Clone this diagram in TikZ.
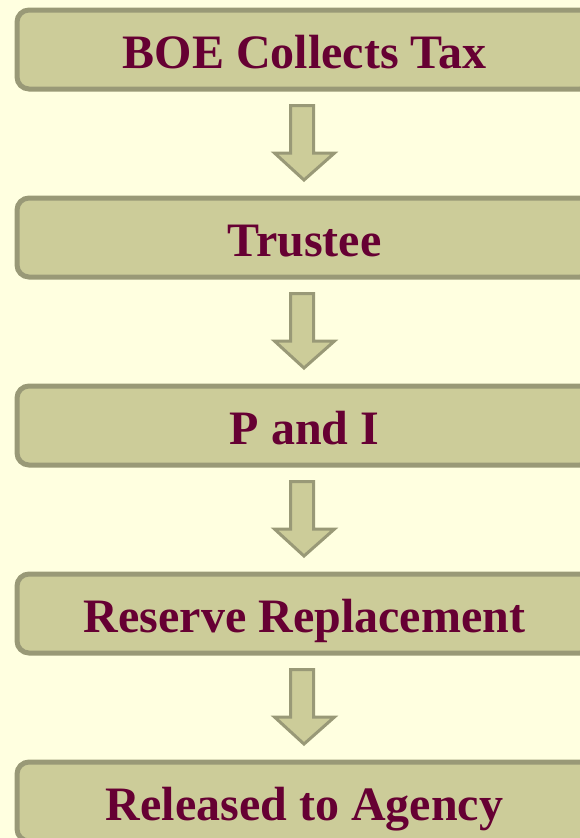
\documentclass[tikz,border=0pt]{standalone}
\usepackage{fontspec}
\setmainfont{Liberation Serif}
\definecolor{bgc}{HTML}{FFFFE0}
\definecolor{boxfill}{HTML}{CCCC99}
\definecolor{boxline}{HTML}{999977}
\definecolor{txt}{HTML}{660033}
\begin{document}
\begin{tikzpicture}[x=1pt,y=-1pt,
  stagebox/.style={draw=boxline,fill=boxfill,line width=5pt,rounded corners=12pt,
    minimum width=575pt,minimum height=79pt,inner sep=0pt,anchor=center,
    text height=40pt,text depth=3pt,
    text=txt,font=\fontsize{48}{52}\selectfont\bfseries},
  downarrow/.style={draw=boxline,fill=boxfill,line width=3pt,line join=miter}]
\useasboundingbox (0,0) rectangle (580,838);
\clip (0,0) rectangle (580,838);
\fill[bgc] (0,0) rectangle (580,838);
\foreach \i/\t in {0/{BOE Collects Tax},1/{Trustee},2/{P and I},3/{Reserve Replacement},4/{Released to Agency}}{
  \node[stagebox] (b\i) at (304.5,{49.5+188*\i}) {\t};
}
\foreach \i in {0,1,2,3}{
  \coordinate (a\i) at (0,{188*\i});
  \draw[downarrow] ([shift={(290.5,105.5)}]a\i) -- ([shift={(313.5,105.5)}]a\i)
    -- ([shift={(313.5,153)}]a\i) -- ([shift={(334.5,153)}]a\i)
    -- ([shift={(304,180)}]a\i) -- ([shift={(274.5,153)}]a\i)
    -- ([shift={(290.5,153)}]a\i) -- cycle;
}
\end{tikzpicture}
\end{document}
